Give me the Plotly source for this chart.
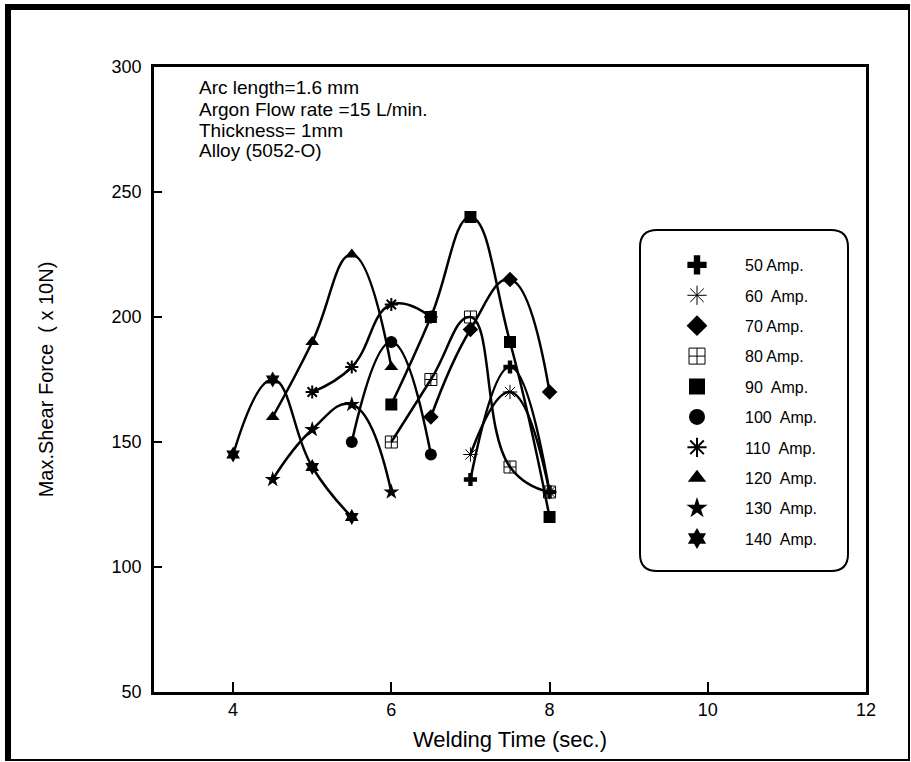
import plotly.graph_objects as go

# ---------------- data ----------------
t50 = [7, 7.5, 8];            f50 = [135, 180, 130]
t60 = [7, 7.5, 8];            f60 = [145, 170, 130]
t70 = [6.5, 7, 7.5, 8];       f70 = [160, 195, 215, 170]
t80 = [6, 6.5, 7, 7.5, 8];    f80 = [150, 175, 200, 140, 130]
t90 = [6, 6.5, 7, 7.5, 8];    f90 = [165, 200, 240, 190, 120]
t100 = [5.5, 6, 6.5];         f100 = [150, 190, 145]
t110 = [5, 5.5, 6, 6.5];      f110 = [170, 180, 205, 200]
t120 = [4.5, 5, 5.5, 6];      f120 = [160, 190, 225, 180]
t130 = [4.5, 5, 5.5, 6];      f130 = [135, 155, 165, 130]
t140 = [4, 4.5, 5, 5.5];      f140 = [145, 175, 140, 120]

names = ["50 Amp.", "60\u00a0 Amp.", "70 Amp.", "80 Amp.", "90\u00a0 Amp.",
         "100\u00a0 Amp.", "110\u00a0 Amp.", "120\u00a0 Amp.", "130\u00a0 Amp.", "140\u00a0 Amp."]
xs = [t50, t60, t70, t80, t90, t100, t110, t120, t130, t140]
ys = [f50, f60, f70, f80, f90, f100, f110, f120, f130, f140]
symbols = ["cross", "asterisk-open", "diamond", "square-cross-open", "square",
           "circle", "asterisk-open", "triangle-up", "star", "hexagram"]
msizes = [11, 12, 12, 12, 12, 12, 11, 12, 12, 12]
mlw = [0, 1, 0, 1, 0, 0, 2, 0, 0, 0]

xticks = [4, 6, 8, 10, 12]
yticks = [50, 100, 150, 200, 250, 300]
notes = ["Arc length=1.6 mm", "Argon Flow rate =15 L/min.", "Thickness= 1mm", "Alloy (5052-O)"]

# ---------------- layout helpers ----------------
W, H = 911, 762
ML, MR, MT, MB = 154, 45, 67, 70
PW = W - ML - MR
PH = H - MT - MB


def px(x):
    return (x - ML) / PW


def py(y):
    return (H - MB - y) / PH


FONT = "Liberation Sans, Arial, sans-serif"

fig = go.Figure()

for i in range(len(names)):
    fig.add_trace(go.Scatter(
        x=xs[i], y=ys[i], mode="lines+markers",
        line=dict(color="black", width=2.5, shape="spline", smoothing=1.3),
        marker=dict(symbol=symbols[i], size=msizes[i], color="black",
                    line=dict(color="black", width=mlw[i])),
        showlegend=False, hoverinfo="x+y", name=names[i]))

for i in range(len(names)):
    fig.add_trace(go.Scatter(
        x=[None], y=[None], mode="markers", name=names[i], legendgroup=str(i),
        marker=dict(symbol=symbols[i], size=16, color="black",
                    line=dict(color="black", width=max(mlw[i], 0))),
        showlegend=True))

shapes = []
# outer frame
shapes.append(dict(type="line", xref="paper", yref="paper", x0=px(8), x1=px(8), y0=py(761), y1=py(4),
                   line=dict(color="black", width=6)))
shapes.append(dict(type="line", xref="paper", yref="paper", x0=px(5), x1=px(910), y0=py(7), y1=py(7),
                   line=dict(color="black", width=6)))
shapes.append(dict(type="line", xref="paper", yref="paper", x0=px(5), x1=px(910), y0=py(760), y1=py(760),
                   line=dict(color="black", width=2)))
shapes.append(dict(type="line", xref="paper", yref="paper", x0=px(909), x1=px(909), y0=py(761), y1=py(4),
                   line=dict(color="black", width=2)))

# rounded legend box
L, R, T, B, r = 640, 848, 230, 571, 17
path = (f"M {px(L + r)},{py(T)} L {px(R - r)},{py(T)} Q {px(R)},{py(T)} {px(R)},{py(T + r)} "
        f"L {px(R)},{py(B - r)} Q {px(R)},{py(B)} {px(R - r)},{py(B)} "
        f"L {px(L + r)},{py(B)} Q {px(L)},{py(B)} {px(L)},{py(B - r)} "
        f"L {px(L)},{py(T + r)} Q {px(L)},{py(T)} {px(L + r)},{py(T)} Z")
shapes.append(dict(type="path", xref="paper", yref="paper", path=path,
                   line=dict(color="black", width=2), fillcolor="white", layer="below"))

annotations = []
for k, s in enumerate(notes):
    annotations.append(dict(text=s, xref="paper", yref="paper", x=px(197), y=py(88 + 21 * k),
                            xanchor="left", yanchor="middle", showarrow=False,
                            font=dict(family=FONT, size=19, color="black")))

fig.update_layout(
    width=W, height=H,
    margin=dict(l=ML, r=MR, t=MT, b=MB, pad=0),
    paper_bgcolor="white", plot_bgcolor="white",
    font=dict(family=FONT, color="black"),
    shapes=shapes, annotations=annotations,
    showlegend=True,
    legend=dict(x=px(649), y=py(248), xanchor="left", yanchor="top",
                bgcolor="rgba(0,0,0,0)", borderwidth=0,
                font=dict(family=FONT, size=16, color="black"),
                itemwidth=86, tracegroupgap=6.6, itemsizing="trace"),
    xaxis=dict(range=[3, 12], tickvals=xticks, ticks="inside", ticklen=10, tickwidth=1.5,
               tickcolor="black", showline=True, linecolor="black", linewidth=2.5, mirror=True,
               showgrid=False, zeroline=False, tickfont=dict(size=18),
               title=dict(text="Welding Time (sec.)", font=dict(size=22), standoff=13)),
    yaxis=dict(range=[50, 300], tickvals=yticks, ticks="inside", ticklen=8, tickwidth=2,
               tickcolor="black", showline=True, linecolor="black", linewidth=2.5, mirror=True,
               showgrid=False, zeroline=False, tickfont=dict(size=18), ticklabelstandoff=6,
               title=dict(text="Max.Shear Force \u00a0( x 10N)", font=dict(size=20), standoff=53)),
)

fig.write_html("out.html")
